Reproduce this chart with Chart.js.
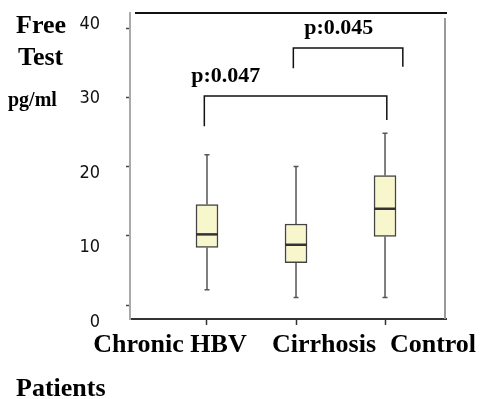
<!DOCTYPE html>
<html>
<head>
<meta charset="utf-8">
<script src="https://cdn.jsdelivr.net/npm/chart.js@4/dist/chart.umd.min.js"></script>
<style>
  html, body { margin: 0; padding: 0; background: #fff; }
  #wrap { width: 485px; height: 399px; position: relative; }
</style>
</head>
<body>
<div id="wrap"><canvas id="chart"></canvas></div>
<script>
// groups and box statistics (pg/ml)
const groups = ["Chronic HBV", "Cirrhosis", "Control"];
const groupPos = [1, 2, 3];
const whiskerLow = [2.2, 1.1, 1.1];
const q1 = [8.3, 6.1, 9.9];
const median = [10.2, 8.7, 13.9];
const q3 = [14.5, 11.7, 18.7];
const whiskerHigh = [21.7, 20.0, 24.8];

const yTicks = [0, 10, 20, 30, 40];

// significance brackets: [x, y] corners
const bracket1 = [[0.97, 25.8], [0.97, 30.2], [3.02, 30.2], [3.02, 26.7]];
const bracket2 = [[1.97, 34.2], [1.97, 37.1], [3.2, 37.1], [3.2, 34.4]];
const pLabels = ["p:0.047", "p:0.045"];
const pLabelPos = [[1.21, 32.2], [2.48, 39.1]];

const serifBold = (size) => "bold " + size + "px 'Liberation Serif', 'Times New Roman', serif";

const noPad = s => { s.paddingTop = 0; s.paddingBottom = 0; s.paddingLeft = 0; s.paddingRight = 0; };

const boxPlugin = {
    id: 'boxParts',
    beforeDatasetsDraw(chart) {
        const { ctx, scales: { x, y } } = chart;
        ctx.save();
        ctx.strokeStyle = '#555';
        ctx.lineWidth = 1.5;
        groupPos.forEach((g, i) => {
            const px = x.getPixelForValue(g);
            ctx.beginPath();
            ctx.moveTo(px, y.getPixelForValue(whiskerHigh[i]));
            ctx.lineTo(px, y.getPixelForValue(q3[i]));
            ctx.moveTo(px, y.getPixelForValue(q1[i]));
            ctx.lineTo(px, y.getPixelForValue(whiskerLow[i]));
            // caps
            [whiskerHigh[i], whiskerLow[i]].forEach(v => {
                const py = y.getPixelForValue(v);
                ctx.moveTo(px - 2.5, py);
                ctx.lineTo(px + 2.5, py);
            });
            ctx.stroke();
        });
        ctx.restore();
    },
    afterDatasetsDraw(chart) {
        const { ctx, scales: { x, y } } = chart;
        ctx.save();
        ctx.strokeStyle = '#333';
        ctx.lineWidth = 2.5;
        groupPos.forEach((g, i) => {
            const px = x.getPixelForValue(g);
            const py = y.getPixelForValue(median[i]);
            ctx.beginPath();
            ctx.moveTo(px - 11, py);
            ctx.lineTo(px + 11, py);
            ctx.stroke();
        });
        ctx.restore();
    },
    afterDraw(chart) {
        const { ctx, chartArea: a, scales: { x, y } } = chart;
        ctx.save();
        // frame: top and right
        ctx.strokeStyle = '#111';
        ctx.lineWidth = 2;
        ctx.beginPath();
        ctx.moveTo(a.left + 5, a.top);
        ctx.lineTo(a.right + 1, a.top);
        ctx.stroke();
        ctx.strokeStyle = '#999';
        ctx.beginPath();
        ctx.moveTo(a.right - 1, a.top + 5);
        ctx.lineTo(a.right - 1, a.bottom);
        ctx.stroke();

        ctx.fillStyle = '#000';
        ctx.textBaseline = 'alphabetic';
        // p values
        ctx.font = serifBold(22);
        ctx.textAlign = 'center';
        pLabels.forEach((t, i) => {
            ctx.fillText(t, x.getPixelForValue(pLabelPos[i][0]), y.getPixelForValue(pLabelPos[i][1]));
        });
        // group names
        ctx.font = serifBold(26);
        ctx.fillText(groups[0], 170, 352);
        ctx.fillText(groups[1], 324, 352);
        ctx.fillText(groups[2], 433, 352);
        // axis titles
        ctx.textAlign = 'left';
        ctx.font = serifBold(26);
        ctx.fillText("Free", 16, 33);
        ctx.fillText("Test", 18, 65);
        ctx.fillText("Patients", 16, 396);
        ctx.font = serifBold(20);
        ctx.fillText("pg/ml", 8, 106);
        ctx.restore();
    }
};

const ctx = document.getElementById('chart').getContext('2d');
new Chart(ctx, {
    type: 'bar',
    data: {
        datasets: [{
            type: 'bar',
            data: groupPos.map((g, i) => ({ x: g, y: [q1[i], q3[i]] })),
            backgroundColor: '#f8f6cc',
            borderColor: '#444',
            borderWidth: 1.5,
            borderSkipped: false,
            barThickness: 22
        }, {
            type: 'line',
            data: bracket1.map(p => ({ x: p[0], y: p[1] })),
            borderColor: '#111',
            borderWidth: 1.5,
            pointRadius: 0,
            tension: 0
        }, {
            type: 'line',
            data: bracket2.map(p => ({ x: p[0], y: p[1] })),
            borderColor: '#111',
            borderWidth: 1.5,
            pointRadius: 0,
            tension: 0
        }]
    },
    options: {
        responsive: true,
        maintainAspectRatio: false,
        animation: false,
        layout: { padding: { top: 13, right: 39, left: 0, bottom: 0 } },
        plugins: { legend: { display: false }, tooltip: { enabled: false } },
        scales: {
            x: {
                type: 'linear',
                offset: false,
                min: 0.135,
                max: 3.685,
                afterBuildTicks: s => { s.ticks = groupPos.map(v => ({ value: v })); },
                afterFit: s => { s.height = 80; noPad(s); },
                ticks: { display: false },
                grid: { offset: false, drawOnChartArea: false, tickLength: 6, tickColor: '#333', tickWidth: 1.5 },
                border: { color: '#333', width: 2 }
            },
            y: {
                position: 'left',
                weight: 0,
                min: -2.02,
                max: 42.17,
                afterBuildTicks: s => { s.ticks = yTicks.map(v => ({ value: v })); },
                afterFit: s => { s.width = 5; noPad(s); },
                ticks: { display: false },
                grid: { drawOnChartArea: false, tickLength: 4, tickColor: '#444', tickWidth: 1.5 },
                border: { color: '#aaa', width: 2 }
            },
            yLabels: {
                position: 'left',
                weight: 1,
                min: 0.403,
                max: 41.476,
                afterBuildTicks: s => { s.ticks = yTicks.map(v => ({ value: v })); },
                afterFit: s => { s.width = 125; noPad(s); },
                ticks: {
                    autoSkip: false,
                    padding: 25,
                    color: '#111',
                    font: { family: "'Liberation Sans Narrow', 'DejaVu Sans Condensed', sans-serif", size: 18 }
                },
                grid: { display: false, drawTicks: false },
                border: { display: false }
            }
        }
    },
    plugins: [boxPlugin]
});
</script>
</body>
</html>
